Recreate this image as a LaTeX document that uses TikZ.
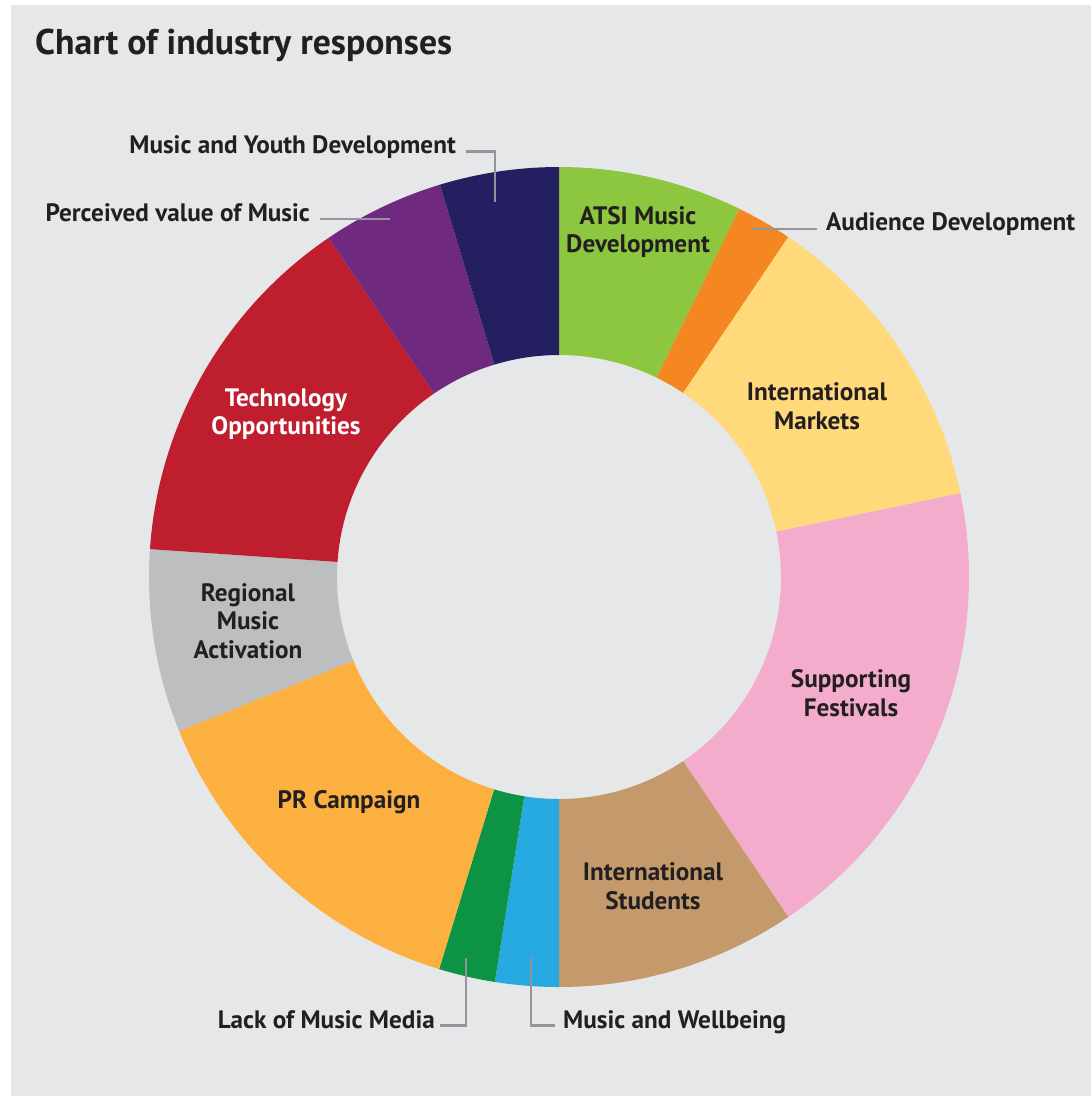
\documentclass[tikz,border=0pt]{standalone}
\usepackage{fontspec}
\setmainfont{PT Sans}
\usetikzlibrary{calc}
\definecolor{panel}{HTML}{E6E7E8}
\definecolor{ink}{HTML}{231F20}
\definecolor{leadgray}{HTML}{939598}
\definecolor{atsi}{HTML}{8DC63F}
\definecolor{audience}{HTML}{F58722}
\definecolor{markets}{HTML}{FFD97A}
\definecolor{festivals}{HTML}{F4ACCD}
\definecolor{students}{HTML}{C49A6C}
\definecolor{wellbeing}{HTML}{27AAE1}
\definecolor{media}{HTML}{0C9444}
\definecolor{prcamp}{HTML}{FBB040}
\definecolor{regional}{HTML}{BCBEC0}
\definecolor{techred}{HTML}{BE1E2D}
\definecolor{perceived}{HTML}{6F2A7F}
\definecolor{youth}{HTML}{241F60}

\begin{document}
\begin{tikzpicture}[x=1pt,y=1pt,
    seglabel/.style={font=\bfseries\fontsize{25.2}{28.5}\selectfont,text=ink,align=center,inner sep=0pt},
    outlabel/.style={font=\bfseries\fontsize{25.2}{28.5}\selectfont,text=ink,inner sep=0pt},
    leader/.style={draw=leadgray,line width=2.6pt}]
    %/ Panel
    \useasboundingbox (0,0) rectangle (1091,-1096);
    \fill[panel] (11,-5) rectangle (1091,-1096);

    %/ Title
    \node[anchor=base west,inner sep=0pt,text=ink,font=\bfseries\fontsize{35.7}{40}\selectfont] (title) at (35,-54) {Chart of industry responses};

    %/ Ring
    \coordinate (ctr) at (559,-577);
    \foreach \a/\b/\col in {
      90/63.9/atsi,
      63.9/56/audience,
      56/11.8/markets,
      11.8/-56/festivals,
      -56/-90/students,
      -90/-99/wellbeing,
      -99/-107/media,
      -107/-157.9/prcamp,
      -157.9/-183.9/regional,
      -183.9/-235.8/techred,
      -235.8/-253.1/perceived,
      -253.1/-270/youth}
    \fill[\col,shift={(ctr)}] (\a:410) arc[start angle=\a,end angle=\b,radius=410]
        -- (\b:222) arc[start angle=\b,end angle=\a,radius=222] -- cycle;

    %/ Labels inside
    \node[seglabel] (atsilbl) at (638,-232) {ATSI Music\\Development};
    \node[seglabel] (marketslbl) at (817,-406) {International\\Markets};
    \node[seglabel] (festlbl) at (851,-693) {Supporting\\Festivals};
    \node[seglabel] (studentslbl) at (653,-886) {International\\Students};
    \node[seglabel] (prlbl) at (349,-802) {PR Campaign};
    \node[seglabel] (regionallbl) at (248,-621) {Regional\\Music\\Activation};
    \node[seglabel,text=white] (techlbl) at (286,-414) {Technology\\Opportunities};

    %/ Labels outside
    \node[outlabel,anchor=base east] (youthlbl) at (456,-153) {Music and Youth Development};
    \node[outlabel,anchor=base east] (perclbl) at (310,-221) {Perceived value of Music};
    \node[outlabel,anchor=base west] (audlbl) at (826,-230) {Audience Development};
    \node[outlabel,anchor=base east] (medialbl) at (435,-1028) {Lack of Music Media};
    \node[outlabel,anchor=base west] (wellbeinglbl) at (563,-1028) {Music and Wellbeing};

    % leader ends
    \coordinate (youthpin) at (495,-202);
    \coordinate (percpin) at (390,-219);
    \coordinate (audpin) at (752,-229);
    \coordinate (mediapin) at (466,-958);
    \coordinate (wellbeingpin) at (531,-958);

    \draw[leader] ([xshift=10pt,yshift=1.5pt]youthlbl.base east) -| (youthpin);
    \draw[leader] ([xshift=10pt,yshift=2pt]perclbl.base east) -- (percpin);
    \draw[leader] ([xshift=-9pt,yshift=1pt]audlbl.base west) -- (audpin);
    \draw[leader] ([xshift=5pt,yshift=2.5pt]medialbl.base east) -| (mediapin);
    \draw[leader] ([xshift=-8pt,yshift=2.5pt]wellbeinglbl.base west) -| (wellbeingpin);
\end{tikzpicture}
\end{document}
